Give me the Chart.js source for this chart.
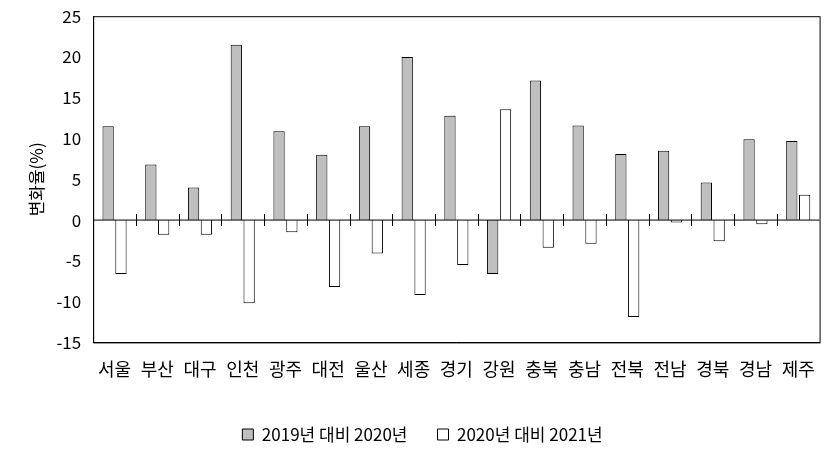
<!DOCTYPE html>
<html><head><meta charset="utf-8">
<script src="https://cdn.jsdelivr.net/npm/chart.js@4"></script>
<style>body{margin:0;background:#fff}#w{width:831px;height:455px}</style>
</head><body><div id="w"><canvas id="c"></canvas></div>
<script>
const categories=['서울','부산','대구','인천','광주','대전','울산','세종','경기','강원','충북','충남','전북','전남','경북','경남','제주'];
const s2020=[11.5,6.8,4.0,21.5,10.9,8.0,11.5,20.0,12.8,-6.6,17.1,11.6,8.1,8.5,4.6,9.9,9.7];
const s2021=[-6.6,-1.8,-1.8,-10.2,-1.5,-8.2,-4.1,-9.2,-5.5,13.6,-3.4,-2.9,-11.9,-0.3,-2.6,-0.5,3.1];
const yTicks=[-15,-10,-5,0,5,10,15,20,25];
const F="'Noto Sans CJK KR'";
const zeroTicks={id:'zt',afterDatasetsDraw(ch){const x=ch.scales.x,y=ch.scales.y,c=ch.ctx;const y0=y.getPixelForValue(0);c.save();c.strokeStyle='#000';c.lineWidth=1;c.beginPath();c.moveTo(ch.chartArea.left,y0);c.lineTo(ch.chartArea.right,y0);for(let i=1;i<categories.length;i++){const px=Math.round((x.getPixelForValue(i-1)+x.getPixelForValue(i))/2)+0.5;c.moveTo(px,y0-6);c.lineTo(px,y0+6);}c.stroke();c.restore();}};
new Chart(document.getElementById('c'),{type:'bar',
data:{labels:categories,datasets:[
{label:'2019년 대비 2020년',data:s2020,backgroundColor:'#bfbfbf',borderColor:'#000',borderWidth:1},
{label:'2020년 대비 2021년',data:s2021,backgroundColor:'#fff',borderColor:'#000',borderWidth:1}]},
options:{responsive:true,maintainAspectRatio:false,animation:false,
layout:{padding:{top:8,right:8,left:22,bottom:2}},
datasets:{bar:{categoryPercentage:0.6,barPercentage:0.88}},
plugins:{legend:{position:'bottom',labels:{font:{family:F,size:17},color:'#000',boxWidth:11,boxHeight:11,padding:30}},tooltip:{enabled:false}},
scales:{
x:{grid:{display:false,drawTicks:false},border:{color:'#000'},ticks:{font:{family:F,size:18},color:'#000',padding:16,maxRotation:0,autoSkip:false}},
y:{min:-15,max:25,afterBuildTicks(a){a.ticks=yTicks.map(v=>({value:v}));},grid:{display:false,drawOnChartArea:false,drawTicks:true,tickLength:6,color:'#000'},border:{color:'#000'},
ticks:{font:{family:F,size:17},color:'#000',padding:6},
title:{display:true,text:'변화율(%)',font:{family:F,size:17},color:'#000'}}}},
plugins:[zeroTicks,{id:'box',afterDraw(ch){const a=ch.chartArea,c=ch.ctx;c.save();c.strokeStyle='#000';c.strokeRect(a.left+0.5,a.top+0.5,a.right-a.left,a.bottom-a.top);c.restore();}}]});
</script></body></html>
